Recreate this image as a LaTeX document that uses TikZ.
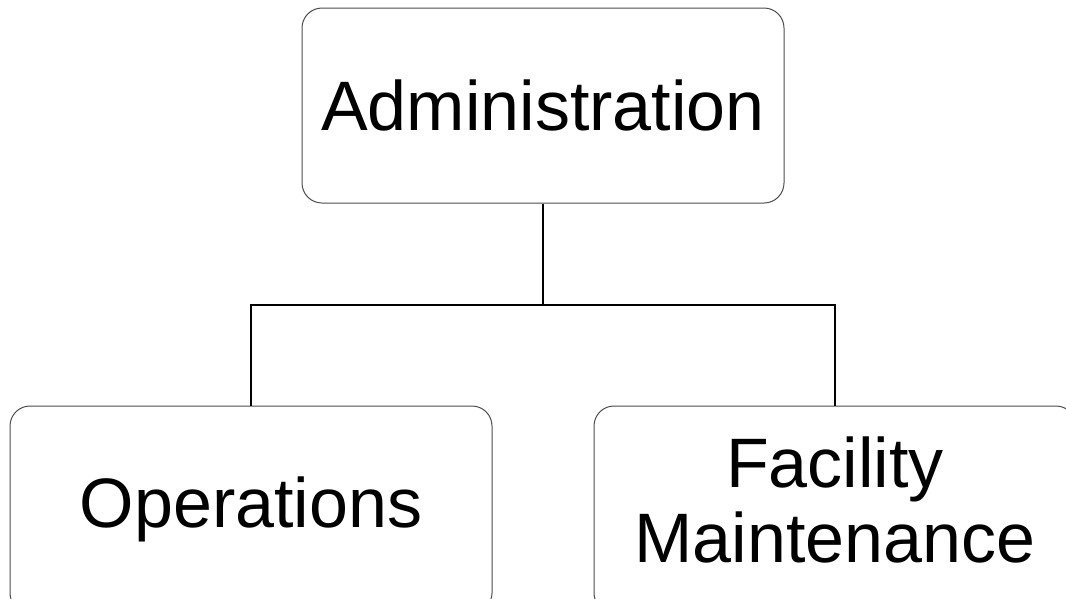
\documentclass[tikz,border=0pt]{standalone}
\usepackage{fontspec}
\setmainfont{Liberation Sans}
\begin{document}
\begin{tikzpicture}[x=1pt,y=-1pt,
  unit/.style={draw=black!70, line width=1pt, rectangle, rounded corners=20pt,
    minimum width=482pt, minimum height=195pt, inner sep=0pt, align=center,
    font=\fontsize{70}{75}\selectfont},
  lowunit/.style={unit, minimum height=207pt},
  link/.style={draw=black, line width=2.5pt}]
  \useasboundingbox (0,0) rectangle (1066,598);
  \clip (0,0) rectangle (1066,598);
  \node[unit] (admin) at (543,105.5) {Administration};
  \node[lowunit] (ops) at (251,509.5) {\raisebox{6pt}{Operations}};
  \node[lowunit] (fac) at (835,509.5) {\raisebox{6pt}{\begin{tabular}{@{}c@{}}Facility\\Maintenance\end{tabular}}};
  \coordinate (bus) at (543,305);
  \draw[link] (admin.south) -- (bus);
  \draw[link] (bus) -| (ops.north);
  \draw[link] (bus) -| (fac.north);
\end{tikzpicture}
\end{document}
